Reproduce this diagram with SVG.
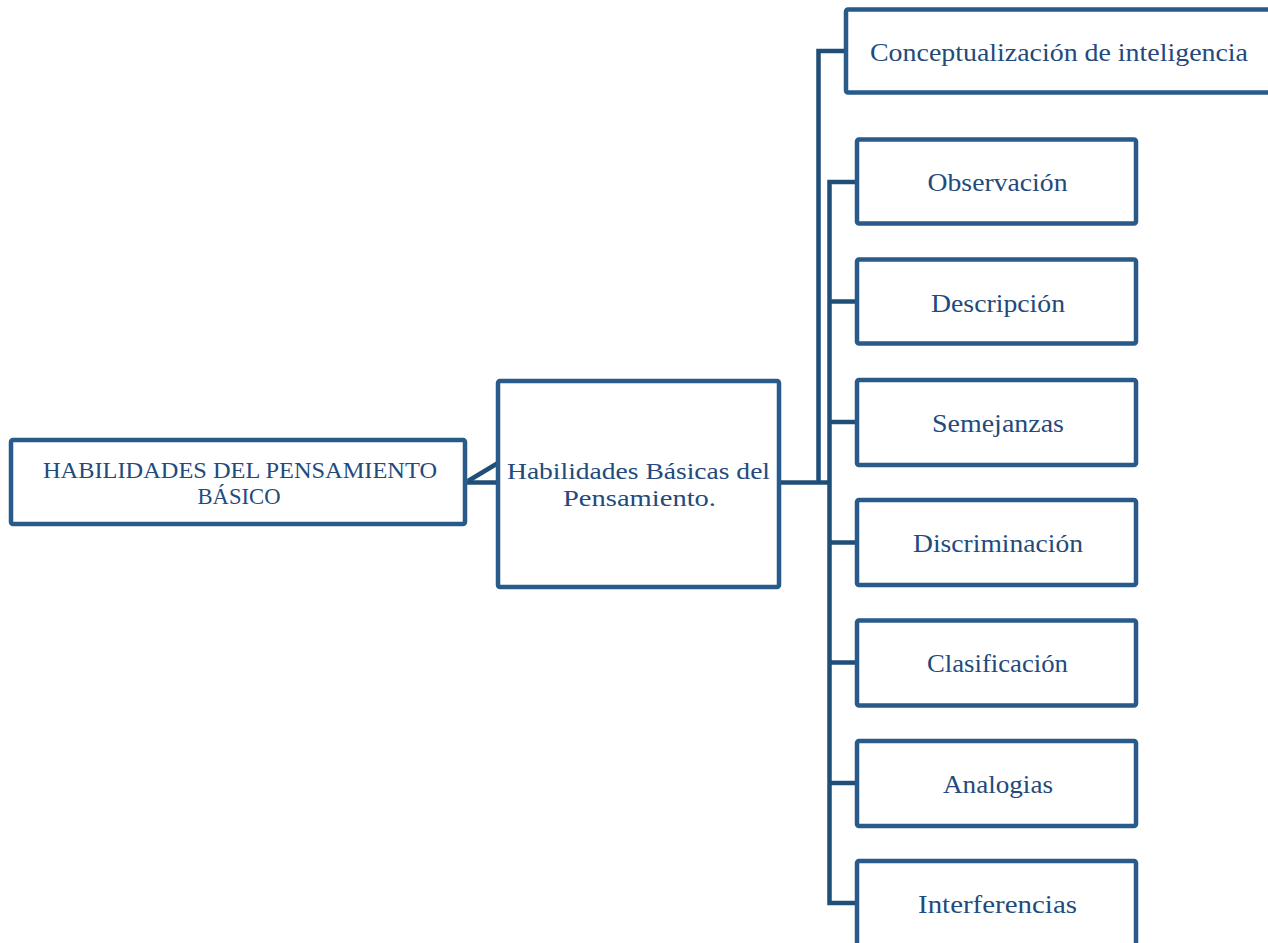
<svg xmlns="http://www.w3.org/2000/svg" width="1268" height="943" viewBox="0 0 1268 943">
<style>
.box{fill:#ffffff;stroke:#285a8a;stroke-width:4.5;stroke-linejoin:round}
.con{fill:none;stroke:#1f4e79;stroke-width:4.5;stroke-linejoin:miter}
.t{font-family:"Liberation Serif","DejaVu Serif",serif;font-size:26px;fill:#234a7c;text-anchor:middle}
.tl{font-family:"Liberation Serif","DejaVu Serif",serif;font-size:26px;fill:#234a7c}
.s23{font-size:23px}
.s24{font-size:24px}
</style>
<rect width="1268" height="943" fill="#ffffff"/>
<g id="connectors">
<line class="con" x1="466" y1="482.5" x2="498" y2="482.5" stroke-width="5.5"/>
<line class="con" x1="468" y1="481" x2="498" y2="463"/>
<line class="con" x1="779" y1="482.5" x2="831" y2="482.5" stroke-width="5.5"/>
<polyline class="con" points="818.5,482.5 818.5,51 846,51"/>
<polyline class="con" points="857,182 829.5,182 829.5,903 857,903"/>
<line class="con" x1="829.5" y1="301.5" x2="857" y2="301.5"/>
<line class="con" x1="829.5" y1="422" x2="857" y2="422"/>
<line class="con" x1="829.5" y1="542.5" x2="857" y2="542.5"/>
<line class="con" x1="829.5" y1="662.5" x2="857" y2="662.5"/>
<line class="con" x1="829.5" y1="783" x2="857" y2="783"/>
</g>
<g id="n-root">
<rect class="box" x="11" y="440" width="454" height="84" rx="2"/>
<text class="t s23" x="240" y="478" textLength="394" lengthAdjust="spacingAndGlyphs">HABILIDADES DEL PENSAMIENTO</text>
<text class="t s23" x="239" y="504" textLength="83" lengthAdjust="spacingAndGlyphs">BÁSICO</text>
</g>
<g id="n-basicas">
<rect class="box" x="498" y="381" width="281" height="206" rx="2"/>
<text class="t s24" x="638.5" y="479" textLength="263" lengthAdjust="spacingAndGlyphs">Habilidades Básicas del</text>
<text class="t s24" x="639.5" y="506" textLength="153" lengthAdjust="spacingAndGlyphs">Pensamiento.</text>
</g>
<g id="n-concept">
<rect class="box" x="846" y="9.5" width="450" height="83" rx="2"/>
<text class="tl" x="870" y="61" textLength="378" lengthAdjust="spacingAndGlyphs">Conceptualización de inteligencia</text>
</g>
<g id="n-observacion">
<rect class="box" x="857" y="139.5" width="279" height="84" rx="2"/>
<text class="t" x="997.5" y="191" textLength="140" lengthAdjust="spacingAndGlyphs">Observación</text>
</g>
<g id="n-descripcion">
<rect class="box" x="857" y="259.5" width="279" height="84" rx="2"/>
<text class="t" x="998" y="312" textLength="134" lengthAdjust="spacingAndGlyphs">Descripción</text>
</g>
<g id="n-semejanzas">
<rect class="box" x="857" y="380" width="279" height="85" rx="2"/>
<text class="t" x="998" y="432" textLength="132" lengthAdjust="spacingAndGlyphs">Semejanzas</text>
</g>
<g id="n-discriminacion">
<rect class="box" x="857" y="500" width="279" height="85" rx="2"/>
<text class="t" x="998" y="552" textLength="170" lengthAdjust="spacingAndGlyphs">Discriminación</text>
</g>
<g id="n-clasificacion">
<rect class="box" x="857" y="620.5" width="279" height="85" rx="2"/>
<text class="t" x="997.5" y="672" textLength="141" lengthAdjust="spacingAndGlyphs">Clasificación</text>
</g>
<g id="n-analogias">
<rect class="box" x="857" y="741" width="279" height="85" rx="2"/>
<text class="t" x="998" y="793" textLength="110" lengthAdjust="spacingAndGlyphs">Analogias</text>
</g>
<g id="n-interferencias">
<rect class="box" x="857" y="861" width="279" height="90" rx="2"/>
<text class="t" x="997.5" y="913" textLength="159" lengthAdjust="spacingAndGlyphs">Interferencias</text>
</g>
</svg>
